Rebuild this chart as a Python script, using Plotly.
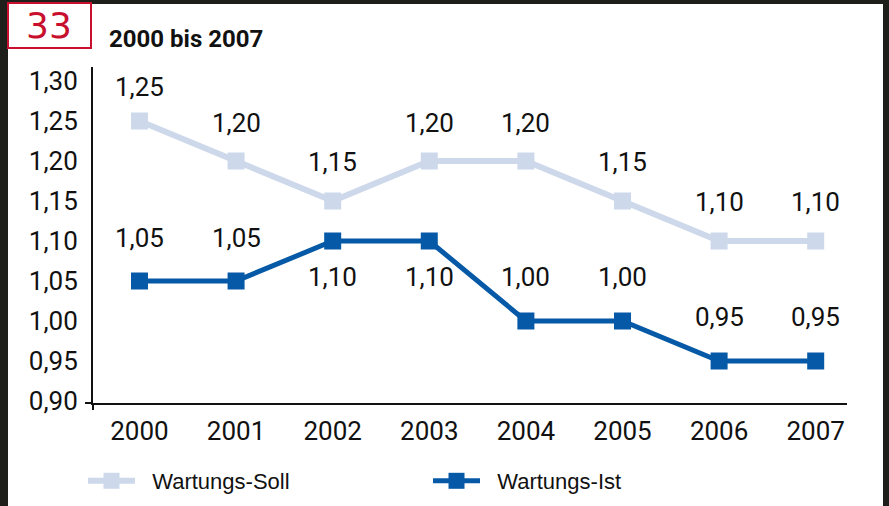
import plotly.graph_objects as go

# chart data
years = ['2000', '2001', '2002', '2003', '2004', '2005', '2006', '2007']
soll = [1.25, 1.20, 1.15, 1.20, 1.20, 1.15, 1.10, 1.10]
ist = [1.05, 1.05, 1.10, 1.10, 1.00, 1.00, 0.95, 0.95]
y_ticks = [0.90, 0.95, 1.00, 1.05, 1.10, 1.15, 1.20, 1.25, 1.30]
names = ['Wartungs-Soll', 'Wartungs-Ist']

# label offsets (px, positive = above the marker)
soll_shift = [34, 38, 39, 38, 38, 39, 39, 39]
ist_shift = [43, 43, -36, -36, 44, 44, 44, 44]

W, H = 889, 506
L, R, T, B = 93, 42, 67, 103
PW, PH = W - L - R, H - T - B

NARROW = 'Roboto, DejaVu Sans Condensed, sans-serif'
SOLL_C = '#cdd8ea'
IST_C = '#0559a6'
RED = '#c8102e'
NBSP = '\u00a0'


def px(x):
    return (x - L) / PW


def py(y):
    return (H - B - y) / PH


def fmt(v):
    return f'{v:.2f}'.replace('.', ',')


fig = go.Figure()
fig.add_trace(go.Scatter(
    x=years, y=soll, name=NBSP * 2 + names[0], mode='lines+markers',
    line=dict(color=SOLL_C, width=6),
    marker=dict(symbol='square', size=17, color=SOLL_C),
    cliponaxis=False,
))
fig.add_trace(go.Scatter(
    x=years, y=ist, name=NBSP * 2 + names[1], mode='lines+markers',
    line=dict(color=IST_C, width=5),
    marker=dict(symbol='square', size=17, color=IST_C),
    cliponaxis=False,
))

annotations = []
for vals, shifts in ((soll, soll_shift), (ist, ist_shift)):
    for i, (v, s) in enumerate(zip(vals, shifts)):
        annotations.append(dict(
            x=i, y=v, text=fmt(v), showarrow=False, yshift=s,
            font=dict(family=NARROW, size=26, color='#111'),
        ))

# title and the red number box
annotations.append(dict(
    xref='paper', yref='paper', x=px(107), y=py(39), xanchor='left', yanchor='middle',
    text='<b>2000 bis 2007</b>', showarrow=False,
    font=dict(family=NARROW, size=24, color='#111'),
))
annotations.append(dict(
    xref='paper', yref='paper', x=px(49), y=py(25), xanchor='center', yanchor='middle',
    text='33', showarrow=False,
    font=dict(family='DejaVu Sans', size=36, color=RED),
))

shapes = [
    # white page over the dark frame
    dict(type='rect', xref='paper', yref='paper', layer='below',
         x0=px(8), x1=px(883), y0=py(H + 5), y1=py(4),
         fillcolor='white', line=dict(width=0)),
    dict(type='rect', xref='paper', yref='paper',
         x0=px(8), x1=px(91), y0=py(48), y1=py(3),
         fillcolor='rgba(0,0,0,0)', line=dict(color=RED, width=2)),
    # small axis overhangs
    dict(type='line', xref='paper', yref='paper',
         x0=px(85), x1=px(93), y0=0, y1=0, line=dict(color='#111', width=2)),
    dict(type='line', xref='paper', yref='paper',
         x0=0, x1=0, y0=py(410), y1=0, line=dict(color='#111', width=2)),
]

fig.update_layout(
    width=W, height=H,
    margin=dict(l=L, r=R, t=T, b=B, autoexpand=False),
    paper_bgcolor='#1e1e1a',
    plot_bgcolor='white',
    separators=',.',
    showlegend=True,
    legend=dict(
        orientation='h', x=px(83), y=py(481), xanchor='left', yanchor='middle',
        font=dict(family='Liberation Sans, Arial, sans-serif', size=22, color='#111'),
        itemwidth=47, entrywidth=283, bgcolor='rgba(0,0,0,0)',
    ),
    annotations=annotations,
    shapes=shapes,
)
fig.update_xaxes(
    type='category', range=[-0.481, 7.324],
    showline=True, linecolor='#111', linewidth=2,
    showgrid=False, zeroline=False, ticks='',
    tickfont=dict(family=NARROW, size=26, color='#111'),
    ticklabelstandoff=4,
)
fig.update_yaxes(
    range=[0.8975, 1.3175], tickvals=y_ticks, tickformat='.2f',
    showline=True, linecolor='#111', linewidth=2,
    showgrid=False, zeroline=False, ticks='',
    tickfont=dict(family=NARROW, size=26, color='#111'),
    ticklabelstandoff=8,
)

fig.write_html(
    'out.html',
    config={'displayModeBar': False},
    post_script="document.body.style.margin='0';document.body.style.overflow='hidden';",
)
